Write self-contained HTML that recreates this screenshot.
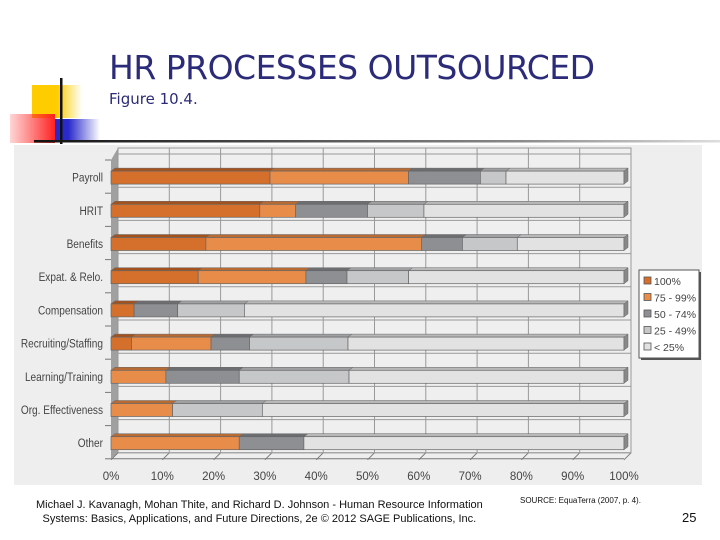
<!DOCTYPE html>
<html><head><meta charset="utf-8"><style>
body{margin:0;width:720px;height:540px;background:#fff;overflow:hidden;font-family:"Liberation Sans",sans-serif;position:relative}
.t{position:absolute;white-space:nowrap}
</style></head><body>
<svg width="720" height="540" style="position:absolute;left:0;top:0">
<defs>
<linearGradient id="gy" x1="0" x2="1"><stop offset="0.5" stop-color="#ffcc00"/><stop offset="1" stop-color="#ffcc00" stop-opacity="0"/></linearGradient>
<linearGradient id="gr" x1="0" x2="1"><stop offset="0" stop-color="#ff3030" stop-opacity="0.2"/><stop offset="1" stop-color="#ff2020"/></linearGradient>
<linearGradient id="gb" x1="0" x2="1"><stop offset="0.3" stop-color="#2a2acc"/><stop offset="1" stop-color="#2a2acc" stop-opacity="0"/></linearGradient>
<linearGradient id="gl" x1="0" x2="1"><stop offset="0" stop-color="#111"/><stop offset="0.7" stop-color="#888"/><stop offset="1" stop-color="#ddd"/></linearGradient>
</defs>
<g>
<rect x="32" y="85" width="50" height="33" fill="url(#gy)"/>
<rect x="10" y="114" width="45" height="29" fill="url(#gr)"/>
<rect x="55" y="119" width="45" height="23" fill="url(#gb)"/>
<rect x="60" y="78" width="2.5" height="66" fill="#111"/>
<rect x="34" y="140" width="686" height="2.5" fill="url(#gl)"/>
</g>
<rect x="14" y="145" width="688" height="340" fill="#eeeeee"/>
<g id="chart"></g>
</svg>
<div class="t" style="left:109px;top:48px;font-size:33px;color:#2b2b7a;font-family:'DejaVu Sans',sans-serif;letter-spacing:-0.5px">HR PROCESSES OUTSOURCED</div>
<div class="t" style="left:109px;top:90px;font-size:15px;color:#2b2b7a;font-family:'DejaVu Sans',sans-serif">Figure 10.4.</div>
<div class="t" style="left:36px;top:498px;font-size:11px;line-height:14px;color:#111;text-align:center">Michael J. Kavanagh, Mohan Thite, and Richard D. Johnson - Human Resource Information<br>Systems: Basics, Applications, and Future Directions, 2e © 2012 SAGE Publications, Inc.</div>
<div class="t" style="left:520px;top:496px;font-size:8px;color:#111">SOURCE: EquaTerra (2007, p. 4).</div>
<div class="t" style="left:682px;top:510px;font-size:13px;color:#111">25</div>
<script>
const categories=["Payroll","HRIT","Benefits","Expat. & Relo.","Compensation","Recruiting/Staffing","Learning/Training","Org. Effectiveness","Other"];
const s100=[31,29,18.5,17,4.5,4,0,0,0];
const s75=[27,7,42,21,0,15.5,10.7,12,25];
const s50=[14,14,8,8,8.5,7.5,14.3,0,12.6];
const s25=[5,11,10.7,12,13,19.2,21.4,17.5,0];
const sLow=[23,39,20.8,42,74,53.8,53.6,70.5,62.4];
const seriesNames=["100%","75 - 99%","50 - 74%","25 - 49%","< 25%"];
const ticks=[0,10,20,30,40,50,60,70,80,90,100];
const series=[s100,s75,s50,s25,sLow];
const colors=["#d46f2c","#e88c4a","#8e8f93","#c6c7c9","#e2e2e2"];
const tops=["#a4521d","#b86a33","#6d6e71","#9fa0a2","#b8b8b8"];
const NS="http://www.w3.org/2000/svg";
const g=document.getElementById('chart');
const X0=111,PX=5.13,DX=7,DY=6,BDX=4,BDY=3,Y0=160,ROW=33.2,BH=13;
const xs=v=>X0+v*PX;
const yc=i=>Y0+ROW*(i+0.5);
function mk(t,a,p){const e=document.createElementNS(NS,t);for(const k in a)e.setAttribute(k,a[k]);(p||g).appendChild(e);return e;}
let e=mk('rect',{x:X0+DX,y:Y0-DY-6,width:100*PX,height:ROW*9+6,fill:'#efefef',stroke:'#999','stroke-width':1});


e=mk('polygon',{points:`${X0},${Y0} ${X0+DX},${Y0-DY-6} ${X0+DX},${Y0+ROW*9-DY} ${X0},${Y0+ROW*9}`,fill:'#a0a0a0'});


ticks.forEach(t=>{
 const x=xs(t);
 let l=mk('line',{x1:x+DX,y1:Y0-DY-6,x2:x+DX,y2:Y0+ROW*9-DY,stroke:'#999','stroke-width':1});
 
 
 mk('line',{x1:x,y1:Y0+ROW*9+1,x2:x+DX,y2:Y0+ROW*9-DY,stroke:'#777'});
 let tx=mk('text',{x:x,y:Y0+ROW*9+21,'text-anchor':'middle','font-size':11.5,fill:'#444','font-family':'Liberation Sans,sans-serif'});
 tx.textContent=t+'%';
 
 
});
for(let i=0;i<=9;i++){const y=Y0+ROW*i;mk('line',{x1:X0+DX,y1:y-DY,x2:X0+100*PX+DX,y2:y-DY,stroke:'#999'});mk('line',{x1:X0-6,y1:y,x2:X0,y2:y,stroke:'#777'});}
mk('line',{x1:X0,y1:Y0+ROW*9,x2:X0+100*PX,y2:Y0+ROW*9,stroke:'#777'});
categories.forEach((c,i)=>{
 const y=yc(i)-BH/2+1;
 let lab=mk('text',{transform:`translate(${X0-8},${yc(i)+5}) scale(0.84,1)`,'text-anchor':'end','font-size':12,fill:'#444','font-family':'Liberation Sans,sans-serif'});
 lab.textContent=c;
 
 
 let acc=0;
 series.forEach((s,j)=>{
  const v=s[i]; if(v<=0)return;
  const x=xs(acc),w=v*PX;
  mk('polygon',{points:`${x},${y} ${x+BDX},${y-BDY} ${x+w+BDX},${y-BDY} ${x+w},${y}`,fill:tops[j],stroke:'#666','stroke-width':0.5});
  let r=mk('rect',{x:x,y:y,width:w,height:BH,fill:colors[j],stroke:'#666','stroke-width':0.7});
  
  
  acc+=v;
  if(series.slice(j+1).every(ss=>ss[i]<=0)){
   const xe=xs(acc);
   mk('polygon',{points:`${xe},${y} ${xe+BDX},${y-BDY} ${xe+BDX},${y+BH-BDY} ${xe},${y+BH}`,fill:'#888',stroke:'#666','stroke-width':0.5});
  }
 });
});
const lg=mk('g',{});


mk('rect',{x:641,y:272,width:60,height:88,fill:'#555'},lg);
mk('rect',{x:639,y:270,width:60,height:88,fill:'#fff',stroke:'#555'},lg);
seriesNames.forEach((n,j)=>{
 const y=281+j*16.5;
 mk('rect',{x:644,y:y-4,width:7,height:7,fill:colors[j],stroke:'#555','stroke-width':0.8},lg);
 let t=mk('text',{x:654,y:y+4,'font-size':10.5,fill:'#444','font-family':'Liberation Sans,sans-serif'},lg);
 t.textContent=n;
 
 
});
</script>
</body></html>
